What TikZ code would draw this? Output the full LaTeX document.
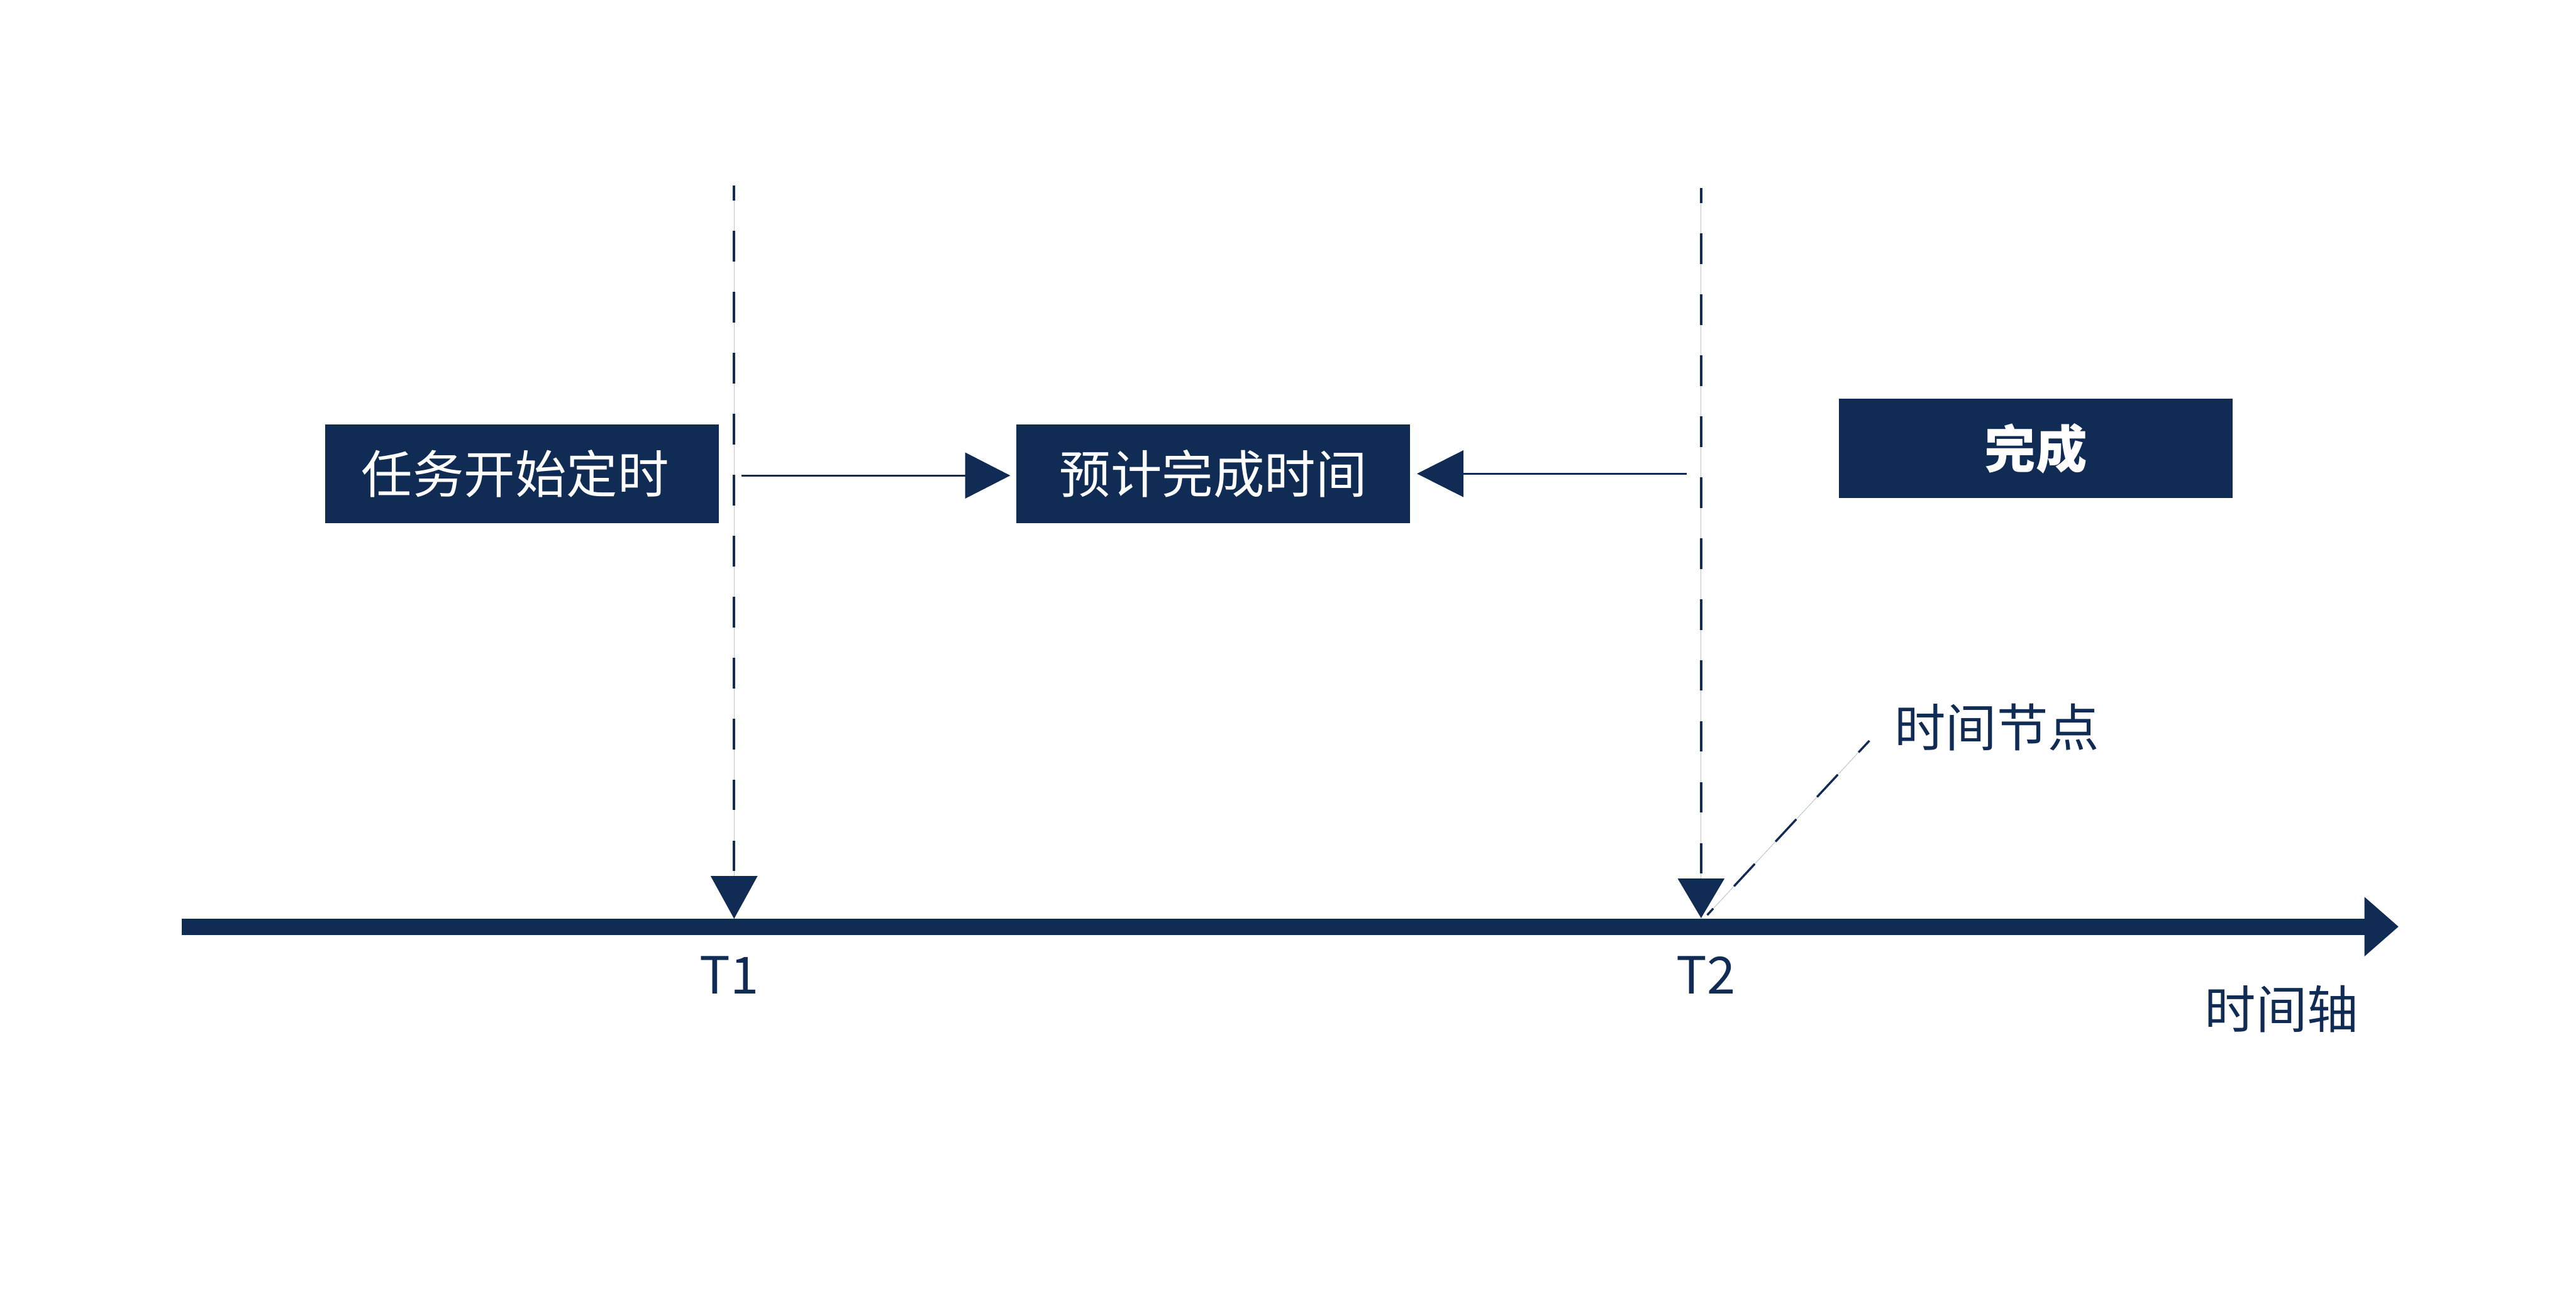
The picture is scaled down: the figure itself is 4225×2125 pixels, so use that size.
\documentclass[tikz,border=0pt]{standalone}
\usepackage{fontspec}
\setmainfont{Noto Sans CJK SC}
\usetikzlibrary{arrows.meta}
\definecolor{navy}{RGB}{16,44,84}
\definecolor{guidegray}{RGB}{190,196,204}
\begin{document}
\begin{tikzpicture}[x=0.2pt,y=-0.2pt,
  box/.style={fill=navy,text=white,minimum width=129.2pt,minimum height=32.4pt,inner sep=0pt,
    font=\fontsize{16.8pt}{20pt}\selectfont},
  lbl/.style={text=navy,inner sep=0pt,font=\fontsize{16.8pt}{20pt}\selectfont},
  guide/.style={draw=guidegray,line width=0.2pt},
  vdash/.style={draw=navy,line width=0.8pt,dash pattern=on 10pt off 10pt,dash phase=5pt},
  ddash/.style={draw=navy,line width=0.7pt,dash pattern=on 10pt off 10pt,dash phase=4.8pt},
  conn/.style={draw=navy,line width=0.6pt},
  axisline/.style={draw=navy,line width=5.4pt}]
\useasboundingbox (0,0) rectangle (4225,2125);

% boxes
\node[box] (b1) at (856,777) {任务开始定时\hspace*{4.4pt}};
\node[box] (b2) at (1990,777) {预计完成时间};
\node[box,minimum height=32.6pt,font=\fontsize{16.8pt}{20pt}\selectfont\bfseries] (b3) at (3339,735.5) {完成};

% coordinates
\coordinate (t1top) at (1204,304);
\coordinate (t1pt) at (1204,1507);
\coordinate (t2top) at (2790,308);
\coordinate (t2pt) at (2790,1506);
\coordinate (ax0) at (298,1520);
\coordinate (ax1) at (3934,1520);
\coordinate (a1s) at (1216,780);
\coordinate (a1e) at (1657,780);
\coordinate (a2s) at (2766,777);
\coordinate (a2e) at (2324,777);
\coordinate (d1) at (3066,1215);
\coordinate (d2) at (2800,1501);

% axis
\draw[axisline,-{Triangle[length=11.2pt,width=18.8pt]}] (ax0) -- (ax1);

% vertical dashed markers
\draw[guide] (t1top) -- (t1pt);
\draw[vdash,-{Triangle[length=14pt,width=15.2pt]}] (t1top) -- (t1pt);
\draw[guide] (t2top) -- (t2pt);
\draw[vdash,-{Triangle[length=13pt,width=15.2pt]}] (t2top) -- (t2pt);

% horizontal arrows
\draw[conn,-{Triangle[length=14.8pt,width=15pt]}] (a1s) -- (a1e);
\draw[conn,-{Triangle[length=15.2pt,width=15.2pt]}] (a2s) -- (a2e);

% pointer line
\draw[guide] (d1) -- (d2);
\draw[ddash] (d1) -- (d2);

% labels
\node[lbl,anchor=base] (T1) at (1196,1630) {T1};
\node[lbl,anchor=base] (T2) at (2798,1630) {T2};
\node[lbl] (tn) at (3275,1193) {时间节点};
\node[lbl] (tz) at (3742,1655) {时间轴};
\end{tikzpicture}
\end{document}
